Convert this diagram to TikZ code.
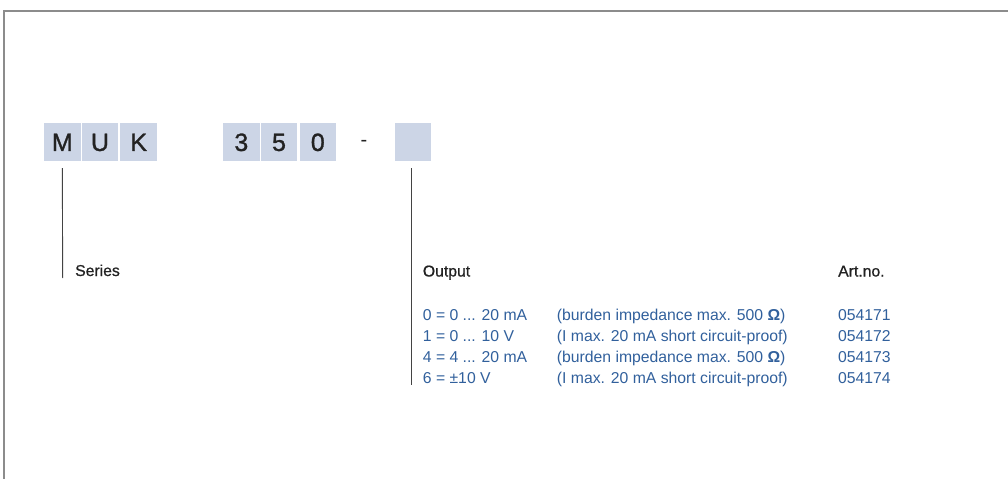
\documentclass[tikz,border=0pt]{standalone}
\usepackage{fontspec}
\setmainfont{Liberation Sans}
\newfontfamily\medfont[FakeBold=0.8]{Liberation Sans}
\newfontfamily\boxfont[FakeBold=1.2]{Liberation Sans}
\definecolor{boxfill}{HTML}{CCD5E6}
\definecolor{txtdark}{HTML}{222222}
\definecolor{txtblue}{HTML}{31609C}
\definecolor{framegray}{HTML}{8C8C8C}
\begin{document}
\begin{tikzpicture}[x=1pt,y=-1pt,
  codebox/.style={fill=boxfill, inner sep=0pt, minimum width=36.5pt, minimum height=37.5pt,
    text height=17.9pt, text depth=0pt, text=txtdark, font=\boxfont\fontsize{25}{28}\selectfont},
  heading/.style={anchor=base west, inner sep=0pt, text=txtdark, font=\medfont\fontsize{15.75}{18}\selectfont},
  entry/.style={anchor=base west, inner sep=0pt, text=txtblue, font=\fontsize{15.75}{18}\selectfont},
  leader/.style={draw=txtdark!85, line width=0.9pt}]
\useasboundingbox (0,0) rectangle (1008,479);
% frame
\draw[framegray, line width=2pt] (1008,11) -- (3.5,11) -- (3.5,479);
% code boxes
\node[codebox] (m) at (62.3,142) {M};
\node[codebox] (u) at (100,142) {U};
\node[codebox] (k) at (138.7,142) {K};
\node[codebox] (d3) at (241.3,142) {3};
\node[codebox] (d5) at (279,142) {5};
\node[codebox] (d0) at (317.8,142) {0};
\node[inner sep=0pt, text=txtdark, font=\fontsize{20}{22}\selectfont] (dash) at (364,143) {-};
\node[codebox] (opt) at (412.9,142) {};
% leaders
\coordinate (seriesEnd) at (62.7,278);
\coordinate (outputEnd) at (411,385);
\draw[leader] (m.south |- 0,168) -- (seriesEnd);
\draw[leader] (outputEnd |- 0,168) -- (outputEnd);
% headings
\node[heading] (series) at (75,276) {Series};
\node[heading] (output) at (422.7,276.5) {Output};
\node[heading] (artno) at (838,276.5) {Art.no.};
% entries
\node[entry] (r1a) at (422.7,320) {0 = 0 ... 20 mA};
\node[entry] (r1b) at (556.7,320) {(burden impedance max. 500 \textbf{Ω})};
\node[entry] (r1c) at (838,320) {054171};
\node[entry] (r2a) at (422.7,341) {1 = 0 ... 10 V};
\node[entry] (r2b) at (556.7,341) {(I max. 20 mA short circuit-proof)};
\node[entry] (r2c) at (838,341) {054172};
\node[entry] (r3a) at (422.7,362.3) {4 = 4 ... 20 mA};
\node[entry] (r3b) at (556.7,362.3) {(burden impedance max. 500 \textbf{Ω})};
\node[entry] (r3c) at (838,362.3) {054173};
\node[entry] (r4a) at (422.7,383) {6 = ±10 V};
\node[entry] (r4b) at (556.7,383) {(I max. 20 mA short circuit-proof)};
\node[entry] (r4c) at (838,383) {054174};
\end{tikzpicture}
\end{document}
